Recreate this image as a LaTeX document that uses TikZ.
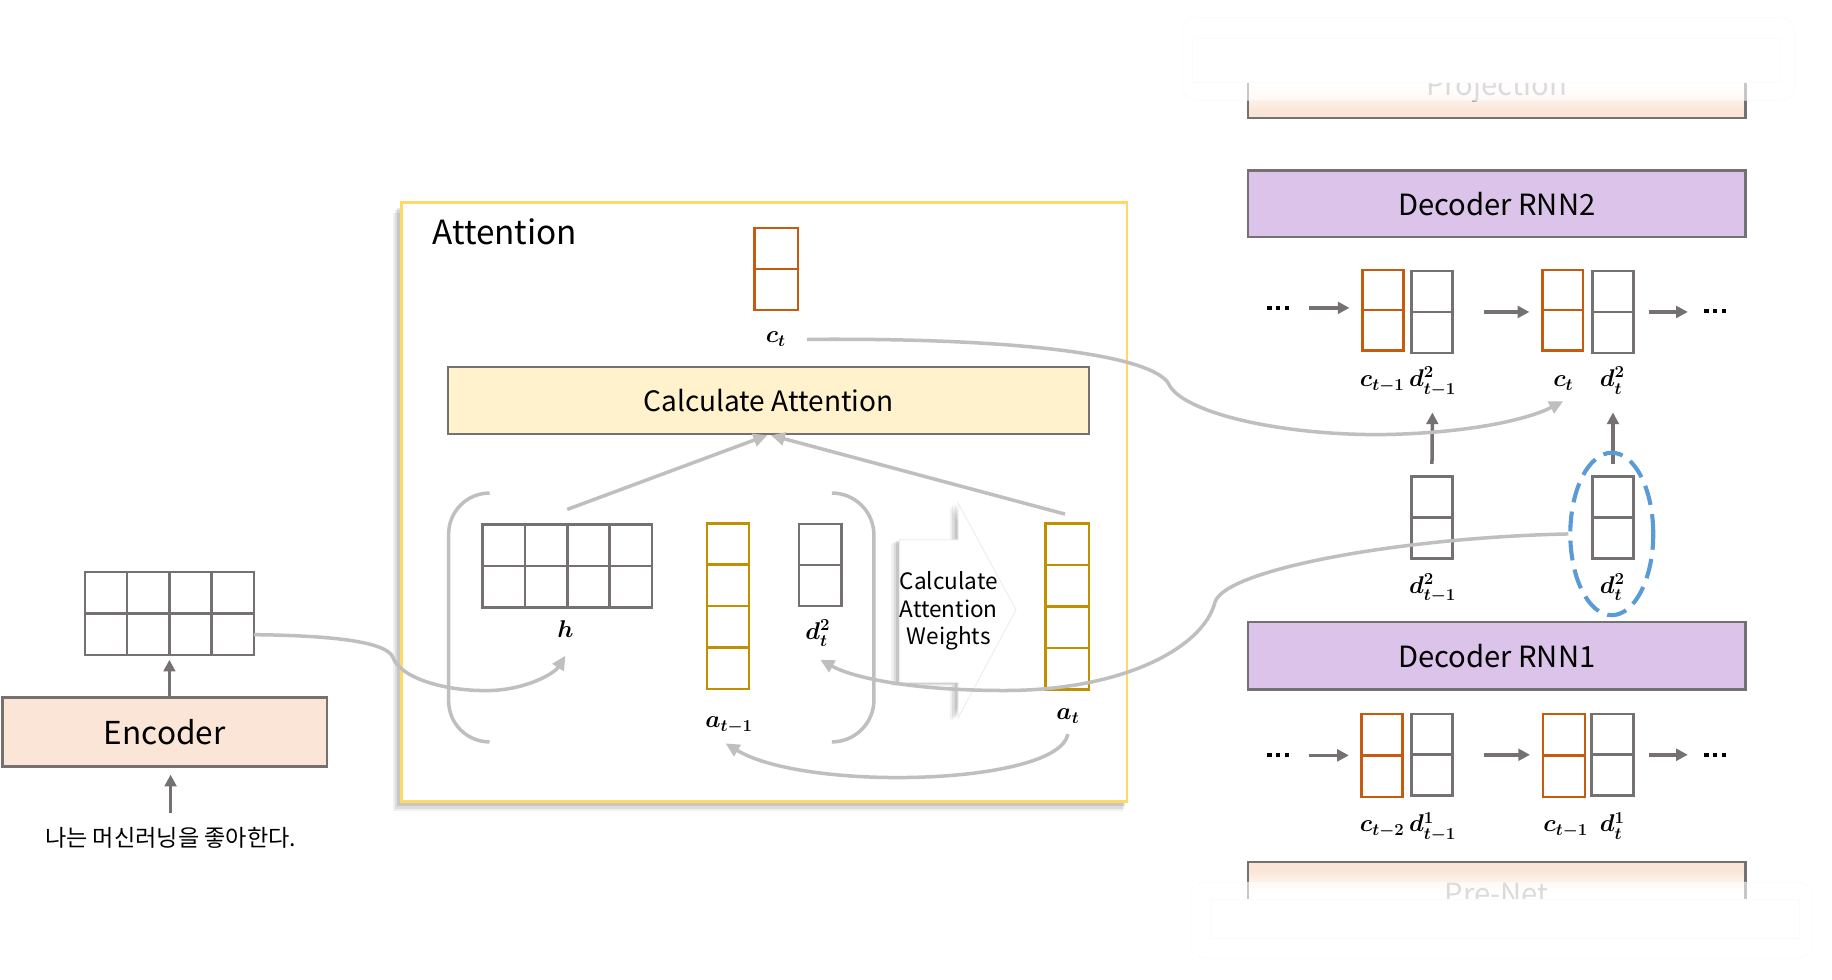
\documentclass[tikz,border=0pt]{standalone}
\usepackage{amsmath,bm}
\usepackage[no-math]{fontspec}
\setmainfont{Noto Sans CJK KR}
\usetikzlibrary{arrows.meta,calc,shapes.geometric}
\definecolor{bgray}{HTML}{767171}
\definecolor{lgray}{HTML}{BFBFBF}
\definecolor{orng}{HTML}{C55A11}
\definecolor{gold}{HTML}{BF9000}
\definecolor{peach}{HTML}{FBE5D6}
\definecolor{lyel}{HTML}{FFF2CC}
\definecolor{ybord}{HTML}{FFD966}
\definecolor{lav}{HTML}{DBC3EA}
\definecolor{eblue}{HTML}{5B9BD5}
\newcommand{\cellnode}[8]{%
  \node[cell,draw=#8,minimum width=#4pt,minimum height=#5pt] (#1) at (#2,#3) {};
  \pgfmathtruncatemacro{\nrw}{#6-1}%
  \ifnum\nrw>0
    \foreach \k in {1,...,\nrw}{\draw[draw=#8,line width=2.2pt] ($(#1.north west)!\k/#6!(#1.south west)$) -- ($(#1.north east)!\k/#6!(#1.south east)$);}
  \fi
  \pgfmathtruncatemacro{\ncl}{#7-1}%
  \ifnum\ncl>0
    \foreach \k in {1,...,\ncl}{\draw[draw=#8,line width=2.2pt] ($(#1.north west)!\k/#7!(#1.north east)$) -- ($(#1.south west)!\k/#7!(#1.south east)$);}
  \fi}
\newcommand{\bdots}{\rule{3.6pt}{3.6pt}\hspace{3.8pt}\rule{3.6pt}{3.6pt}\hspace{3.8pt}\rule{3.6pt}{3.6pt}}
\begin{document}
\begin{tikzpicture}[x=1pt,y=-1pt,
  cell/.style={rectangle,inner sep=0,outer sep=0,line width=2.2pt,fill=white},
  block/.style={rectangle,draw=bgray,line width=2pt,inner sep=0},
  darrow/.style={draw=bgray,line width=3pt,-{Triangle[length=10pt,width=10pt]}},
  larrow/.style={draw=lgray,line width=3pt,-{Triangle[length=12pt,width=11pt]}},
  lline/.style={draw=lgray,line width=3pt},
  lbl/.style={inner sep=0,anchor=base,font=\fontsize{21}{25}\selectfont\boldmath},
  dots/.style={inner sep=0},
  ghost/.style={inner sep=0,anchor=base,text=black!35,font=\fontsize{25}{30}\selectfont}]
\useasboundingbox (0,0) rectangle (1568,838);
\fill[white] (0,0) rectangle (1568,838);

% ---------------- Encoder ----------------
\cellnode{encM}{145}{525.2}{144.7}{71}{2}{4}{bgray}
\node[block,fill=peach,minimum width=278pt,minimum height=59pt,font=\fontsize{27}{32}\selectfont] (enc) at (141,626.5) {Encoder};
\node[inner sep=0,font=\fontsize{19.8}{24}\selectfont] (src) at (146,717) {나는 머신러닝을 좋아한다.};
\draw[darrow,shorten >=4pt] (encM.south |- enc.north) -- (encM.south);
\draw[darrow,shorten <=12pt,shorten >=6pt] (src.north) -- (src.north |- enc.south);

% ---------------- Attention ----------------
\fill[black,opacity=.06] (336,182) rectangle (961,694);
\fill[black,opacity=.08] (338,180) rectangle (962,692);
\fill[black,opacity=.10] (340,178) rectangle (963,690);
\node[draw=ybord,line width=2.5pt,fill=white,inner sep=0,minimum width=620.6pt,minimum height=512pt] (att) at (654.3,429.6) {};
\node[anchor=base west,inner sep=0,font=\fontsize{28.5}{32}\selectfont] (attT) at (370,209) {Attention};
\cellnode{ctA}{664.5}{230.25}{37}{70.5}{2}{1}{orng}
\node[lbl] (lct) at (664,293.5) {$c_t$};
\node[block,fill=lyel,minimum width=548.5pt,minimum height=57.5pt,font=\fontsize{24}{28}\selectfont] (calcA) at (657.75,342.75) {Calculate Attention};
\draw[lline,rounded corners=35pt] (419,422) -- (384,422) -- (384,635) -- (419,635);
\draw[lline,rounded corners=36pt] (712,422) -- (748,422) -- (748,635) -- (712,635);
\cellnode{hM}{485.5}{484.5}{145}{71}{2}{4}{bgray}
\node[lbl] (lh) at (484,546) {$h$};
\cellnode{a1M}{623}{518.8}{36}{141.8}{4}{1}{gold}
\node[lbl] (la1) at (624,623) {$a_{t-1}$};
\cellnode{dA}{702}{483.6}{36}{70}{2}{1}{bgray}
\node[lbl] (ldA) at (700,547) {$d_t^2$};
% block arrow
\foreach \dx/\dy/\op in {-7/3/0.06,-5/2/0.08,-3/1/0.10}{
  \fill[black,opacity=\op,shift={(\dx,\dy)}] (770,462) -- (820,462) -- (820,430.5) -- (869.6,522) -- (820,614.5) -- (820,584) -- (770,584) -- cycle;}
\fill[white,draw=black!7,line width=0.8pt] (770,462) -- (820,462) -- (820,430.5) -- (869.6,522) -- (820,614.5) -- (820,584) -- (770,584) -- cycle;
\node[inner sep=0,align=center,font=\fontsize{19.3}{23.5}\selectfont] (caw) at (812,523) {Calculate\\Attention\\Weights};
\cellnode{atM}{913.5}{519}{37}{142}{4}{1}{gold}
\node[lbl] (lat) at (914,616) {$a_t$};
\draw[larrow] ([yshift=13pt]hM.north) -- ([xshift=-1pt]calcA.south);
\draw[larrow] ([xshift=-2pt,yshift=8pt]atM.north) -- ([xshift=2pt]calcA.south);

% ---------------- Decoder ----------------
% Projection (faded)
\fill[peach] (1068,94) rectangle (1494,101);
\shade[top color=white,bottom color=peach] (1068,74) rectangle (1494,94.5);
\draw[bgray,line width=2pt] (1068,45) -- (1068,101) -- (1494,101) -- (1494,45);
\node[ghost] (proj) at (1281,82) {Projection};
\fill[white,opacity=.6,draw=black!3,rounded corners=12pt] (1012,15) rectangle (1536,86);
\fill[white,draw=black!1.5] (1020,33) rectangle (1523,70);

\node[block,fill=lav,minimum width=426pt,minimum height=57pt,font=\fontsize{25}{30}\selectfont] (rnn2) at (1281,174.5) {Decoder RNN2};
% row 2
\node[dots] (dA2) at (1094,263.5) {\bdots};
\cellnode{c2a}{1183.5}{265.5}{35}{69}{2}{1}{orng}
\cellnode{d2a}{1225.5}{267}{35}{70}{2}{1}{bgray}
\cellnode{c2b}{1337.5}{265.5}{35}{69}{2}{1}{orng}
\cellnode{d2b}{1380.5}{267}{35}{70}{2}{1}{bgray}
\node[dots] (dB2) at (1468,266) {\bdots};
\draw[darrow,shorten <=17pt,shorten >=11pt] (dA2.east) -- (dA2.east -| c2a.west);
\draw[darrow,shorten <=27pt,shorten >=11pt] (d2a.east) -- (d2a.east -| c2b.west);
\draw[darrow,shorten <=13pt,shorten >=14pt] (d2b.east) -- (d2b.east -| dB2.west);
\node[lbl] (lc2a) at (1183,331) {$c_{t-1}$};
\node[lbl] (ld2a) at (1226,331) {$d_{t-1}^2$};
\node[lbl] (lc2b) at (1338,331) {$c_t$};
\node[lbl] (ld2b) at (1380,331) {$d_t^2$};
% middle
\cellnode{dma}{1225.5}{443}{35}{70}{2}{1}{bgray}
\cellnode{dmb}{1380.5}{443}{35}{70}{2}{1}{bgray}
\node[lbl] (ldma) at (1226,507.6) {$d_{t-1}^2$};
\node[lbl] (ldmb) at (1380,507.6) {$d_t^2$};
\coordinate (tipA) at (1226,353);
\coordinate (tipB) at (1380.5,353);
\draw[darrow,shorten <=11pt] (dma.north) -- (tipA);
\draw[darrow,shorten <=11pt] (dmb.north) -- (tipB);
\node[ellipse,draw=eblue,dash pattern=on 17pt off 8pt,line width=3.5pt,minimum width=71pt,minimum height=139pt,inner sep=0] (sel) at (1379.5,457) {};

\node[block,fill=lav,minimum width=426pt,minimum height=57.5pt,font=\fontsize{25}{30}\selectfont] (rnn1) at (1281,561.25) {Decoder RNN1};
% row 1
\node[dots] (dA1) at (1094,646.5) {\bdots};
\cellnode{c1a}{1183}{646.5}{35}{71}{2}{1}{orng}
\cellnode{d1a}{1225.5}{646}{35}{70}{2}{1}{bgray}
\cellnode{c1b}{1338.5}{646.5}{36}{71}{2}{1}{orng}
\cellnode{d1b}{1380}{646}{36}{70}{2}{1}{bgray}
\node[dots] (dB1) at (1468,646.5) {\bdots};
\draw[darrow,shorten <=17pt,shorten >=11pt] (dA1.east) -- (dA1.east -| c1a.west);
\draw[darrow,shorten <=27pt,shorten >=11pt] (d1a.east) -- (d1a.east -| c1b.west);
\draw[darrow,shorten <=13pt,shorten >=14pt] (d1b.east) -- (d1b.east -| dB1.west);
\node[lbl] (lc1a) at (1183,712) {$c_{t-2}$};
\node[lbl] (ld1a) at (1226,712) {$d_{t-1}^1$};
\node[lbl] (lc1b) at (1340,712) {$c_{t-1}$};
\node[lbl] (ld1b) at (1380,712) {$d_t^1$};

% Pre-Net (faded)
\fill[peach] (1068,738) rectangle (1494,745);
\shade[top color=peach,bottom color=white] (1068,744.5) rectangle (1494,765);
\draw[bgray,line width=2pt] (1068,795) -- (1068,738) -- (1494,738) -- (1494,795);
\node[ghost] (pren) at (1281,774) {Pre-Net};
\fill[white,opacity=.6,draw=black!3,rounded corners=12pt] (1019,755) rectangle (1551,820);
\fill[white,draw=black!1.5] (1036,770) rectangle (1540,803);

% ---------------- light connectors ----------------
\draw[larrow] ([yshift=-18pt]encM.east) .. controls (290,544) and (330,550) .. (336,562) .. controls (342,580) and (380,592) .. (420,591) .. controls (450,590) and (474,577) .. ([yshift=-15pt]lh.south);
\draw[larrow] ([yshift=-9pt]lat.south) .. controls (906,672) and (690,678) .. ([xshift=-3pt,yshift=-8pt]la1.south);
\draw[larrow] ([xshift=18pt]lct.east) .. controls (880,289) and (985,305) .. (1000,328) .. controls (1010,352) and (1090,372) .. (1180,372) .. controls (1260,371) and (1310,358) .. ([yshift=-9pt]lc2b.south);
\draw[larrow] (sel.west) .. controls (1200,460) and (1050,487) .. (1040,515) .. controls (1030,555) and (960,591) .. (860,591) .. controls (780,591) and (730,580) .. ([xshift=2pt,yshift=-11pt]ldA.south);
\end{tikzpicture}
\end{document}
